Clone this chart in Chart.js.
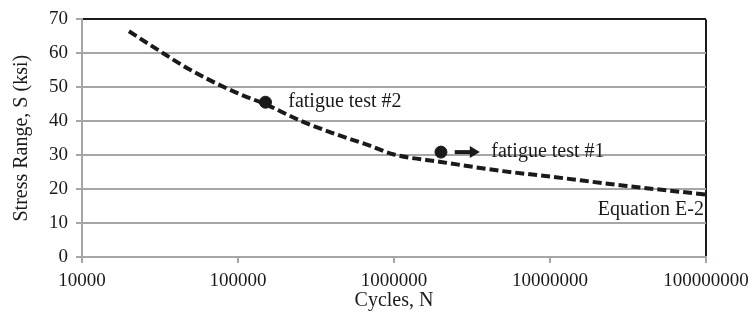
<!DOCTYPE html>
<html>
<head>
<meta charset="utf-8">
<script src="https://cdn.jsdelivr.net/npm/chart.js@4/dist/chart.umd.min.js"></script>
<style>
	html, body { margin: 0; padding: 0; background: #fff; }
	#wrap { width: 751px; height: 324px; }
</style>
</head>
<body>
<div id="wrap"><canvas id="myChart" width="751" height="324"></canvas></div>
<script>
// data
var cycles = [20000, 30000, 50000, 100000, 150000, 250000, 400000, 700000, 1000000, 2000000, 5000000, 10000000, 30000000, 100000000];
var stress = [66.5, 61.3, 55.0, 48.2, 45.0, 40.2, 36.6, 32.8, 30.2, 28.0, 25.3, 23.7, 21.0, 18.4];
var testCycles = [150000, 2000000];
var testStress = [45.6, 30.9];
var xTicks = [10000, 100000, 1000000, 10000000, 100000000];
var yTicks = [0, 10, 20, 30, 40, 50, 60, 70];

// labels and arrow, in data units
var notes = [
	{ text: 'fatigue test #2', x: 210000, y: 45.6, align: 'left' },
	{ text: 'fatigue test #1', x: 4200000, y: 30.9, align: 'left' },
	{ text: 'Equation E-2', x: 97000000, y: 13.8, align: 'right' }
];
var arrowFrom = [2450000, 30.9];
var arrowTo = [3550000, 30.9];

var serif = '"Liberation Serif", "Times New Roman", serif';
var gridGray = '#a3a7ab';

var notesPlugin = {
	id: 'notes',
	afterDatasetsDraw: function (chart) {
		var ctx = chart.ctx;
		var sx = chart.scales.x, sy = chart.scales.y;
		ctx.save();
		ctx.fillStyle = '#1a1a1a';
		ctx.font = '20px ' + serif;
		ctx.textBaseline = 'middle';
		notes.forEach(function (n) {
			ctx.textAlign = n.align;
			ctx.fillText(n.text, sx.getPixelForValue(n.x), sy.getPixelForValue(n.y));
		});
		// arrow
		var x1 = sx.getPixelForValue(arrowFrom[0]), y1 = sy.getPixelForValue(arrowFrom[1]);
		var x2 = sx.getPixelForValue(arrowTo[0]), y2 = sy.getPixelForValue(arrowTo[1]);
		ctx.strokeStyle = '#1a1a1a';
		ctx.lineWidth = 4;
		ctx.beginPath();
		ctx.moveTo(x1, y1);
		ctx.lineTo(x2 - 6, y2);
		ctx.stroke();
		ctx.beginPath();
		ctx.moveTo(x2, y2);
		ctx.lineTo(x2 - 10, y2 - 6);
		ctx.lineTo(x2 - 10, y2 + 6);
		ctx.closePath();
		ctx.fill();
		ctx.restore();
	}
};

var ctx = document.getElementById('myChart').getContext('2d');
var chart = new Chart(ctx, {
	type: 'scatter',
	data: {
		datasets: [{
			label: 'Equation E-2',
			data: cycles.map(function (c, i) { return { x: c, y: stress[i] }; }),
			showLine: true,
			borderColor: '#1a1a1a',
			borderWidth: 4,
			borderDash: [9, 4],
			pointRadius: 0,
			tension: 0.4,
			cubicInterpolationMode: 'monotone',
			fill: false
		}, {
			label: 'fatigue tests',
			data: testCycles.map(function (c, i) { return { x: c, y: testStress[i] }; }),
			backgroundColor: '#1a1a1a',
			borderColor: '#1a1a1a',
			pointRadius: 6,
			pointHoverRadius: 6
		}]
	},
	options: {
		responsive: false,
		animation: false,
		events: [],
		layout: { padding: { top: 17, right: 45, left: 0, bottom: 0 } },
		plugins: {
			legend: { display: false },
			tooltip: { enabled: false }
		},
		scales: {
			x: {
				type: 'logarithmic',
				min: 10000,
				max: 100000000,
				afterBuildTicks: function (scale) {
					scale.ticks = xTicks.map(function (v) { return { value: v }; });
				},
				afterFit: function (scale) {
					scale.height = 67;
					// keep the plot edges fixed, labels may overhang
					scale.paddingLeft = 0;
					scale.paddingRight = 0;
				},
				ticks: {
					autoSkip: false,
					maxRotation: 0,
					color: '#1a1a1a',
					font: { family: serif, size: 19 },
					padding: 7,
					callback: function (v) { return String(v); }
				},
				grid: {
					color: function (c) { return c.tick && c.tick.value === 100000000 ? '#1a1a1a' : 'rgba(0,0,0,0)'; },
					lineWidth: 2,
					tickColor: gridGray,
					tickLength: 6,
					tickWidth: 2
				},
				border: { display: true, color: gridGray, width: 2 },
				title: {
					display: true,
					text: 'Cycles, N',
					color: '#1a1a1a',
					font: { family: serif, size: 20 },
					padding: { top: 0, bottom: 11 }
				}
			},
			y: {
				min: 0,
				max: 70,
				afterBuildTicks: function (scale) {
					scale.ticks = yTicks.map(function (v) { return { value: v }; });
				},
				afterFit: function (scale) { scale.width = 82; },
				ticks: {
					color: '#1a1a1a',
					font: { family: serif, size: 19 },
					padding: 8
				},
				grid: {
					color: function (c) { return c.tick && c.tick.value === 70 ? '#1a1a1a' : gridGray; },
					lineWidth: 2,
					tickColor: gridGray,
					tickLength: 6,
					tickWidth: 2
				},
				border: { display: true, color: gridGray, width: 2 },
				title: {
					display: true,
					text: 'Stress Range, S (ksi)',
					color: '#1a1a1a',
					font: { family: serif, size: 20 },
					padding: { top: 10, bottom: 0 }
				}
			}
		}
	},
	plugins: [notesPlugin]
});
</script>
</body>
</html>
